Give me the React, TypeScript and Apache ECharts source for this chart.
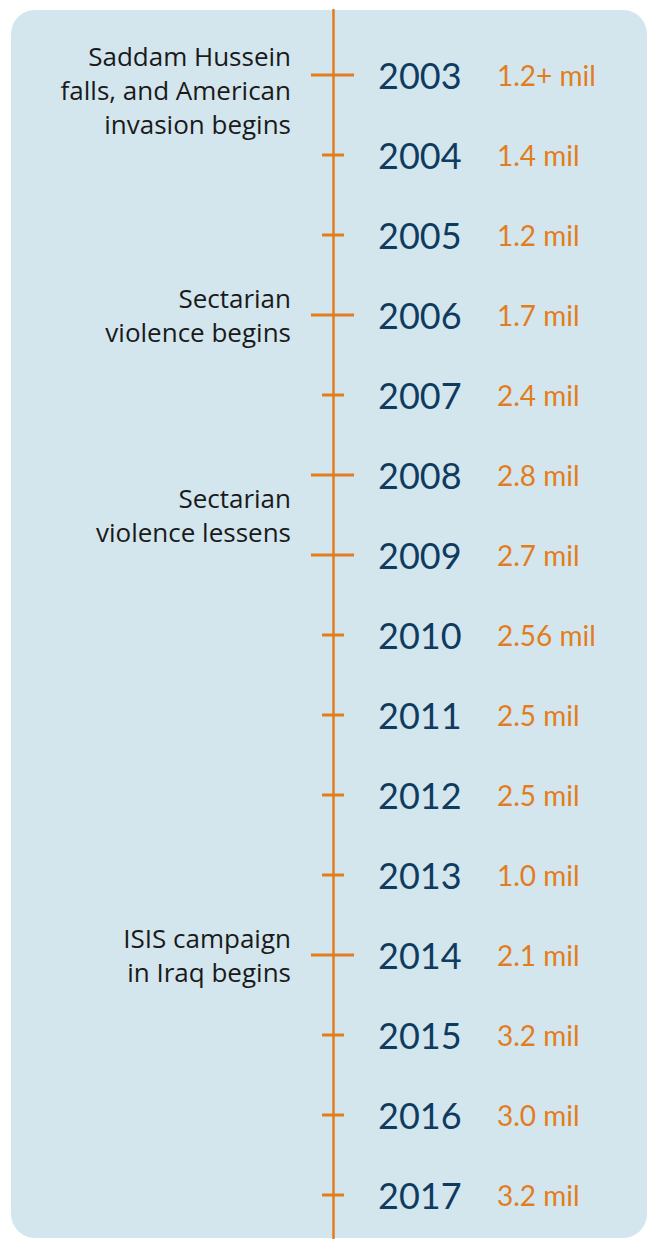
import React, { useEffect, useRef } from "react";
import * as echarts from "echarts";

const years = [2003, 2004, 2005, 2006, 2007, 2008, 2009, 2010, 2011, 2012, 2013, 2014, 2015, 2016, 2017];
const displaced = ["1.2+ mil", "1.4 mil", "1.2 mil", "1.7 mil", "2.4 mil", "2.8 mil", "2.7 mil", "2.56 mil", "2.5 mil", "2.5 mil", "1.0 mil", "2.1 mil", "3.2 mil", "3.0 mil", "3.2 mil"];
const majorYears = [2003, 2006, 2008, 2009, 2014];
const eventYears = [2003, 2006, 2008.5, 2014];
const eventTexts = [
  "Saddam Hussein\nfalls, and American\ninvasion begins",
  "Sectarian\nviolence begins",
  "Sectarian\nviolence lessens",
  "ISIS campaign\nin Iraq begins",
];

const ORANGE = "#e27d1e";
const NAVY = "#0f3b5e";
const BG = "#d3e6ee";

export default function App() {
  const ref = useRef<HTMLDivElement>(null);
  useEffect(() => {
    if (!ref.current) return;
    const chart = echarts.init(ref.current, undefined, { renderer: "svg" });
    const yearData = years.map((y, i) => [0, y, majorYears.includes(y) ? 1 : 0, displaced[i]]);
    const eventData = eventYears.map((y, i) => [0, y, eventTexts[i]]);
    chart.setOption({
      animation: false,
      graphic: [
        {
          type: "rect",
          z: -10,
          shape: { x: 11, y: 10, width: 636, height: 1228, r: 24 },
          style: { fill: BG },
        },
      ],
      grid: { left: 0, right: 0, top: 10, bottom: 0 },
      xAxis: { type: "value", min: -333, max: 314, show: false },
      yAxis: {
        type: "value",
        inverse: true,
        min: 2002.1875,
        max: 2017.55,
        axisLine: { show: true, onZero: true, lineStyle: { color: ORANGE, width: 2.5 } },
        axisTick: { show: false },
        axisLabel: { show: false },
        splitLine: { show: false },
      },
      series: [
        {
          type: "custom",
          data: yearData,
          renderItem: (params: any, api: any) => {
            const p = api.coord([api.value(0), api.value(1)]);
            const major = api.value(2) === 1;
            const x1 = major ? p[0] - 22 : p[0] - 11;
            const x2 = major ? p[0] + 21 : p[0] + 11;
            return {
              type: "group",
              children: [
                {
                  type: "line",
                  shape: { x1, y1: p[1], x2, y2: p[1] },
                  style: { stroke: ORANGE, lineWidth: 3 },
                },
                {
                  type: "text",
                  x: p[0] + 45,
                  y: p[1],
                  style: {
                    text: String(api.value(1)),
                    fill: NAVY,
                    font: "36px Lato",
                    verticalAlign: "middle",
                    align: "left",
                  },
                },
                {
                  type: "text",
                  x: p[0] + 164,
                  y: p[1],
                  style: {
                    text: api.value(3),
                    fill: ORANGE,
                    font: "28px Lato",
                    verticalAlign: "middle",
                    align: "left",
                  },
                },
              ],
            };
          },
        },
        {
          type: "custom",
          data: eventData,
          renderItem: (params: any, api: any) => {
            const p = api.coord([api.value(0), api.value(1)]);
            const text = String(api.value(2));
            const lines = text.split("\n").length;
            const dy = lines > 2 ? 15 : 0;
            return {
              type: "text",
              x: p[0] - 42,
              y: p[1] + dy,
              style: {
                text,
                fill: "#1a1a1a",
                font: "26px 'Open Sans'",
                lineHeight: 34,
                verticalAlign: "middle",
                align: "right",
              },
            };
          },
        },
      ],
    });
    return () => chart.dispose();
  }, []);
  return <div ref={ref} style={{ position: "absolute", left: 0, top: 0, width: 647, height: 1239 }} />;
}
